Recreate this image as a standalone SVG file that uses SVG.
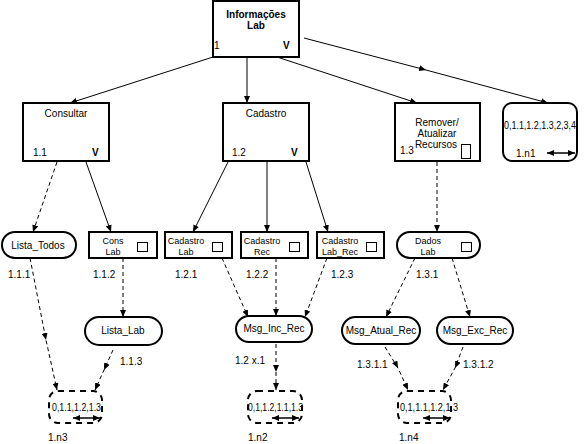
<svg xmlns="http://www.w3.org/2000/svg" width="587" height="444" viewBox="0 0 587 444">
<style>
text{font-family:"Liberation Sans",Arial,sans-serif;font-size:10px;fill:#000}
.b{font-weight:bold}
.m{text-anchor:middle}
.s{font-size:9px}
.box{fill:#fff;stroke:#000;stroke-width:2}
.sq{fill:#fff;stroke:#000;stroke-width:1}
.st{fill:#fff;stroke:#000;stroke-width:2}
.db{fill:none;stroke:#000;stroke-width:2;stroke-dasharray:6,5}
.c{fill:none;stroke:#000;stroke-width:1;marker-end:url(#ah)}
.d{fill:none;stroke:#000;stroke-width:1;stroke-dasharray:4,3;marker-end:url(#ah)}
.mid{marker-mid:url(#ah)}
.dbl{fill:none;stroke:#000;stroke-width:1.5;marker-start:url(#ahs);marker-end:url(#ah)}
</style>
<defs>
<marker id="ah" markerWidth="8" markerHeight="6" refX="7" refY="3" orient="auto" markerUnits="userSpaceOnUse"><path d="M0,0 L7,3 L0,6 z" fill="#000"/></marker>
<marker id="ahs" markerWidth="8" markerHeight="6" refX="0" refY="3" orient="auto" markerUnits="userSpaceOnUse"><path d="M7,0 L0,3 L7,6 z" fill="#000"/></marker>
</defs>
<g id="connectors">
<path class="c" d="M213,57 L70,103"/>
<path class="c" d="M247,57 L247,103"/>
<path class="c" d="M277,57 L417,103"/>
<path class="c mid" d="M304,38 L426,70 L548,103"/>
<path class="d" d="M57,162 L33,232"/>
<path class="c" d="M86,162 L111,232"/>
<path class="c" d="M228,162 L193,232"/>
<path class="c" d="M267,162 L267,232"/>
<path class="c" d="M306,162 L328,232"/>
<path class="d" d="M437,162 L437,232"/>
<path class="d mid" d="M30,258 L46,340 L57,390"/>
<path class="d" d="M123,258 L123,317"/>
<path class="d mid" d="M113,350 L104,370 L95,390"/>
<path class="d" d="M222,258 L248,317"/>
<path class="d" d="M276,258 L276,316"/>
<path class="d" d="M327,258 L305,317"/>
<path class="d mid" d="M276,344 L276,372 L276,390"/>
<path class="d" d="M415,258 L386,317"/>
<path class="d" d="M452,258 L470,317"/>
<path class="d mid" d="M385,347 L398,368 L408,390"/>
<path class="d mid" d="M463,347 L455,368 L443,390"/>
</g>
<g id="n1">
<rect class="box" x="213" y="1" width="86" height="56"/>
<text class="b m" x="256" y="18">Informações</text>
<text class="b m" x="256" y="29">Lab</text>
<text x="214" y="49">1</text>
<text class="b" x="283" y="49">V</text>
</g>
<g id="n1_1">
<rect class="box" x="23" y="103" width="86" height="58"/>
<text class="m" x="66" y="117">Consultar</text>
<text x="33" y="156">1.1</text>
<text class="b" x="92" y="156">V</text>
</g>
<g id="n1_2">
<rect class="box" x="223" y="103" width="86" height="58"/>
<text class="m" x="266" y="117">Cadastro</text>
<text x="232" y="156">1.2</text>
<text class="b" x="291" y="156">V</text>
</g>
<g id="n1_3">
<rect class="box" x="395" y="103" width="85" height="58"/>
<text class="m" x="437" y="126">Remover/</text>
<text class="m" x="437" y="137">Atualizar</text>
<text class="m" x="436" y="148">Recursos</text>
<text x="400" y="154">1.3</text>
<rect class="sq" x="461.5" y="144.5" width="9" height="14"/>
</g>
<g id="n1_n1">
<rect class="box" x="503" y="103" width="74" height="58" rx="9"/>
<text x="504" y="129" textLength="72" lengthAdjust="spacingAndGlyphs">0,1.1,1.2,1.3,2,3,4</text>
<text x="516" y="157">1.n1</text>
<path class="dbl" d="M547,153 L575,153"/>
</g>
<g id="n1_1_1">
<rect class="st" x="2" y="232" width="74" height="26" rx="13"/>
<text class="m" x="38" y="249">Lista_Todos</text>
<text x="8" y="278">1.1.1</text>
</g>
<g id="n1_1_2">
<rect class="box" x="89" y="232" width="68" height="26"/>
<text class="m s" x="113" y="244">Cons</text>
<text class="m s" x="113" y="255">Lab</text>
<rect class="sq" x="137.5" y="242.5" width="10" height="9"/>
<text x="93" y="278">1.1.2</text>
</g>
<g id="n1_2_1">
<rect class="box" x="165" y="232" width="67" height="26"/>
<text class="m s" x="186" y="244">Cadastro</text>
<text class="m s" x="186" y="255">Lab</text>
<rect class="sq" x="212.5" y="242.5" width="10" height="9"/>
<text x="175" y="278">1.2.1</text>
</g>
<g id="n1_2_2">
<rect class="box" x="241" y="232" width="67" height="26"/>
<text class="m s" x="262" y="244">Cadastro</text>
<text class="m s" x="262" y="255">Rec</text>
<rect class="sq" x="289.5" y="242.5" width="10" height="9"/>
<text x="246" y="278">1.2.2</text>
</g>
<g id="n1_2_3">
<rect class="box" x="317" y="232" width="67" height="26"/>
<text class="m s" x="340" y="244">Cadastro</text>
<text class="m s" x="340" y="255">Lab_Rec</text>
<rect class="sq" x="366.5" y="242.5" width="10" height="9"/>
<text x="331" y="278">1.2.3</text>
</g>
<g id="n1_3_1">
<rect class="st" x="397" y="232" width="83" height="26" rx="13"/>
<text class="m s" x="428" y="244">Dados</text>
<text class="m s" x="428" y="255">Lab</text>
<rect class="sq" x="461.5" y="242.5" width="10" height="9"/>
<text x="416" y="278">1.3.1</text>
</g>
<g id="n1_1_3">
<rect class="st" x="85" y="317" width="77" height="28" rx="14"/>
<text class="m" x="123" y="334">Lista_Lab</text>
<text x="120" y="365">1.1.3</text>
</g>
<g id="n1_2_x1">
<rect class="st" x="236" y="316" width="76" height="26" rx="13"/>
<text class="m" x="274" y="332">Msg_Inc_Rec</text>
<text x="235" y="364">1.2 x.1</text>
</g>
<g id="n1_3_1_1">
<rect class="st" x="342" y="317" width="78" height="27" rx="13.5"/>
<text class="m" x="381" y="334">Msg_Atual_Rec</text>
<text x="357" y="368">1.3.1.1</text>
</g>
<g id="n1_3_1_2">
<rect class="st" x="437" y="317" width="76" height="27" rx="13.5"/>
<text class="m" x="475" y="334">Msg_Exc_Rec</text>
<text x="463" y="368">1.3.1.2</text>
</g>
<g id="n1_n3">
<rect class="db" x="49" y="391" width="53" height="32" rx="9"/>
<text x="52" y="411" textLength="49" lengthAdjust="spacingAndGlyphs">0,1.1,1.2,1.3</text>
<path class="dbl" d="M73,418 L100,418"/>
<text x="48" y="441">1.n3</text>
</g>
<g id="n1_n2">
<rect class="db" x="248" y="391" width="54" height="32" rx="9"/>
<text x="248" y="411" textLength="55" lengthAdjust="spacingAndGlyphs">0,1,1.2,1.1,1.3</text>
<path class="dbl" d="M272,418 L299,418"/>
<text x="248" y="441">1.n2</text>
</g>
<g id="n1_n4">
<rect class="db" x="398" y="391" width="53" height="32" rx="9"/>
<text x="400" y="411" textLength="58" lengthAdjust="spacingAndGlyphs">0,1,1.1,1.2,1.3</text>
<path class="dbl" d="M423,418 L450,418"/>
<text x="399" y="441">1.n4</text>
</g>
</svg>
